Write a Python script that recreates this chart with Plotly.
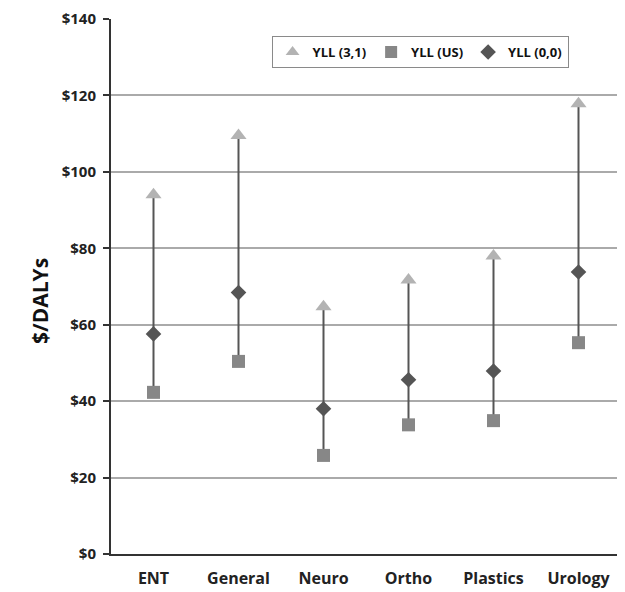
import plotly.graph_objects as go

categories = ["ENT", "General", "Neuro", "Ortho", "Plastics", "Urology"]
yll_31 = [94, 109.5, 64.7, 71.7, 78, 117.8]
yll_us = [42.3, 50.4, 25.8, 33.8, 34.9, 55.3]
yll_00 = [57.6, 68.4, 38, 45.6, 47.9, 73.8]
y_ticks = [0, 20, 40, 60, 80, 100, 120, 140]
y_tick_labels = ["$" + str(v) for v in y_ticks]

# high-low connector lines built from the series
line_x, line_y = [], []
for c, lo, hi in zip(categories, yll_us, yll_31):
    line_x += [c, c, None]
    line_y += [lo, hi, None]

fig = go.Figure()
fig.add_trace(go.Scatter(x=line_x, y=line_y, mode="lines",
                         line=dict(color="#555555", width=2),
                         showlegend=False, hoverinfo="skip"))
fig.add_trace(go.Scatter(x=categories, y=yll_31, mode="markers", name="YLL (3,1)",
                         marker=dict(symbol="triangle-up", size=14, color="#b3b3b3")))
fig.add_trace(go.Scatter(x=categories, y=yll_us, mode="markers", name="YLL (US)",
                         marker=dict(symbol="square", size=13, color="#878787")))
fig.add_trace(go.Scatter(x=categories, y=yll_00, mode="markers", name="YLL (0,0)",
                         marker=dict(symbol="diamond", size=12, color="#555555")))

fig.update_layout(
    width=617, height=584,
    margin=dict(l=103, r=4, t=11, b=38, autoexpand=False),
    paper_bgcolor="white", plot_bgcolor="white",
    font=dict(family="Open Sans", color="#222222"),
    legend=dict(orientation="h", x=0.606, y=0.968, xanchor="center", yanchor="top",
                bordercolor="#8a8a8a", borderwidth=1, bgcolor="white",
                font=dict(size=13, color="#111111", weight="bold"), itemwidth=30,
                tracegroupgap=0, itemsizing="constant"),
    xaxis=dict(type="category", categoryorder="array", categoryarray=categories,
               range=[-0.5, 5.5], showline=True, linecolor="#333333", linewidth=2,
               showgrid=False, ticks="", ticklabelstandoff=9, automargin=False,
               tickfont=dict(size=16, weight="bold", color="#222222"),
               zeroline=False),
    yaxis=dict(range=[0, 140], tickvals=y_ticks, ticktext=y_tick_labels,
               showline=True, linecolor="#333333", linewidth=2,
               showgrid=True, gridcolor="#aaaaaa", gridwidth=1.5,
               ticks="outside", ticklen=6, tickcolor="#333333", tickwidth=1.5,
               ticklabelstandoff=4, ticklabeloverflow="allow", automargin=False,
               tickfont=dict(size=15, weight="bold", color="#222222"),
               zeroline=False),
    annotations=[dict(text="$/DALYs", textangle=-90, xref="paper", yref="paper",
                      x=-0.139, y=0.473, xanchor="center", yanchor="middle",
                      showarrow=False,
                      font=dict(size=21, weight="bold", color="#111111"))],
)

fig.write_html("out.html")
